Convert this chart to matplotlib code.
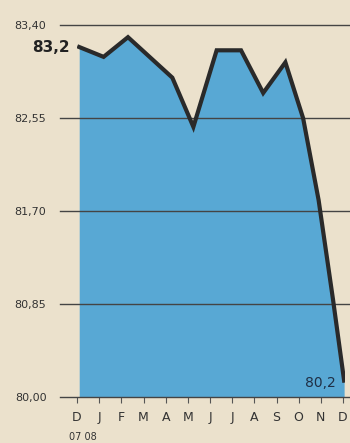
"""Euro/dollar style area chart, Dec 07 - Dec 08."""
import matplotlib.pyplot as plt

# months from December 2007 (0) to December 2008 (12)
months = [0.1, 1.2, 2.3, 4.3, 5.25, 6.3, 7.4, 8.4, 9.4, 10.2, 10.9, 11.55, 12.05]
values = [83.2, 83.11, 83.29, 82.92, 82.47, 83.17, 83.17, 82.78, 83.06, 82.55, 81.80, 80.89, 80.15]

y_ticks = [80.00, 80.85, 81.70, 82.55, 83.40]
y_labels = ["80,00", "80,85", "81,70", "82,55", "83,40"]
x_labels = ["D", "J", "F", "M", "A", "M", "J", "J", "A", "S", "O", "N", "D"]

paper = "#ebe1cc"
fill = "#58a8d4"
ink = "#2a2a2a"

fig = plt.figure(figsize=(3.5, 4.43), dpi=100, facecolor=paper)
ax = fig.add_axes([77 / 350, 46 / 443, 268 / 350, 397 / 443])
ax.set_facecolor(paper)

ax.fill_between(months, values, 80.0, color=fill, lw=0, zorder=1)
for v in y_ticks:
    ax.axhline(v, xmin=-0.063, xmax=1.03, color="#444444", lw=1.0,
               clip_on=False, zorder=2)
ax.plot(months, values, color=ink, lw=3, solid_joinstyle="miter", zorder=3)

ax.set_xlim(0.09, 12.09)
ax.set_ylim(80.0, 83.63)

ax.set_yticks(y_ticks)
ax.set_yticklabels(y_labels, fontsize=8, color="#333333")
ax.tick_params(axis="y", length=0, pad=22)

ax.set_xticks(range(13))
ax.set_xticklabels(x_labels, fontsize=9, color="#333333")
ax.tick_params(axis="x", length=4, width=0.8, color="#555555", pad=6)

for s in ax.spines.values():
    s.set_visible(False)

fig.text(70 / 350, 1 - 47 / 443, "83,2", ha="right", va="center",
         fontsize=11, fontweight="bold", color="#222222")
fig.text(336 / 350, 1 - 383 / 443, "80,2", ha="right", va="center",
         fontsize=10, color="#1f2f45")
fig.text(83 / 350, 1 / 443, "07 08", ha="center", va="bottom",
         fontsize=7, color="#333333")

fig.savefig("out.png", dpi=100, facecolor=paper)
